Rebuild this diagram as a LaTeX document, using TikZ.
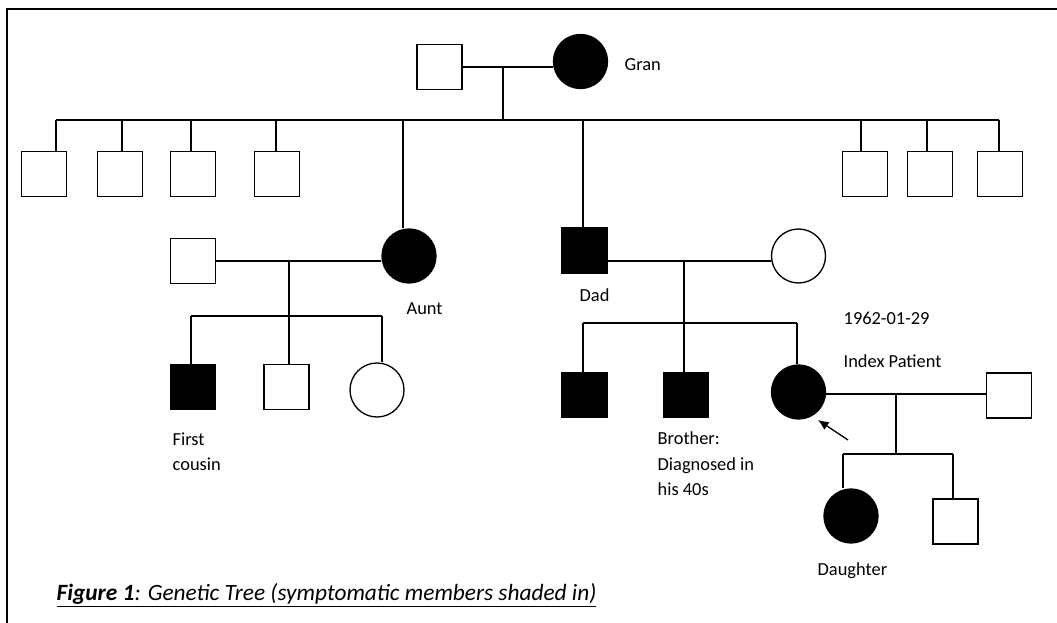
\documentclass[tikz,border=0pt]{standalone}
\usepackage{fontspec}
\setmainfont{Carlito}
\usetikzlibrary{shapes,arrows.meta}
\tikzstyle{ml}=[rectangle,draw=black,line width=1pt,minimum size=33.75pt,inner sep=0pt]
\tikzstyle{fm}=[circle,draw=black,line width=1pt,minimum size=40.5pt,inner sep=0pt]
\tikzstyle{aff}=[fill=black]
\tikzstyle{lbl}=[anchor=base west,inner sep=0pt,align=left,font=\fontsize{13.8}{19.1}\selectfont]

\begin{document}
\begin{tikzpicture}[x=.75pt,y=-.75pt,line width=1pt]
\useasboundingbox (0,0) rectangle (1057,623);
\draw (7,623) -- (7,9) -- (1057,9);
% grandparents
\node[ml] (gpa) at (439.5,67) {};
\node[fm,aff] (gran) at (580.5,61.5) {};
\coordinate (m0) at (503,67);
\coordinate (s0) at (503,120);
\draw (gpa.east) -- (gpa.east -| gran.west);
\draw (m0) -- (s0);
% uncles
\foreach \x/\d [count=\i] in {44/56,120/122,193/191,277/276,865/861,930/927,1000/999} {
\node[ml] (u\i) at (\x,174) {};
\coordinate (d\i) at (\d,120);
\draw (d\i) -- (d\i |- u\i.north);}
\draw (d1) -- (d7);
% aunt and dad
\node[fm,aff] (aunt) at (409,256) {};
\node[ml,aff] (dad) at (584.5,250.5) {};
\coordinate (da) at (403,120);
\coordinate (dd) at (583,120);
\draw (da) -- (da |- aunt.north);
\draw (dd) -- (dd |- dad.north);
% aunt's family
\node[ml] (auntsp) at (193,261) {};
\coordinate (m1) at (289,261);
\coordinate (s1) at (289,316);
\draw (auntsp.east) -- (auntsp.east -| aunt.west);
\draw (m1) -- (s1);
\node[ml,aff] (cous1) at (193,387) {};
\node[ml] (cous2) at (286.5,387) {};
\node[fm] (cous3) at (377,390) {};
\coordinate (c1) at (191,316);
\coordinate (c3) at (382,316);
\draw (c1) -- (c3);
\draw (c1) -- (c1 |- cous1.north);
\draw (s1) -- (s1 |- cous2.north);
\draw (c3) -- (c3 |- cous3.north);
% dad's family
\node[fm] (mum) at (798.5,256) {};
\coordinate (m2) at (684,261);
\coordinate (s2) at (684,323);
\draw (m2 -| dad.east) -- (m2 -| mum.west);
\draw (m2) -- (s2);
\node[ml,aff] (bro1) at (584.5,395) {};
\node[ml,aff] (bro2) at (686,395) {};
\node[fm,aff] (index) at (798.5,392) {};
\coordinate (b1) at (583,323);
\coordinate (b3) at (797,323);
\draw (b1) -- (b3);
\draw (b1) -- (b1 |- bro1.north);
\draw (s2) -- (s2 |- bro2.north);
\draw (b3) -- (b3 |- index.north);
% index patient's family
\node[ml] (idxsp) at (1009,395.5) {};
\coordinate (m3) at (896,394);
\coordinate (s3) at (896,454);
\draw (m3 -| index.east) -- (m3 -| idxsp.west);
\draw (m3) -- (s3);
\node[fm,aff] (dau) at (851,516) {};
\node[ml] (son) at (955.5,521.5) {};
\coordinate (k1) at (843,454);
\coordinate (k2) at (953,454);
\draw (k1) -- (k2);
\draw (k1) -- (k1 |- dau.north);
\draw (k2) -- (k2 |- son.north);
\coordinate (arrt) at (848,440);
\coordinate (arrh) at (818,420);
\draw[-{Latex[length=8pt,width=7pt]}] (arrt) -- (arrh);
% labels (base = last line)
\node[lbl] (lgran) at (624,71) {Gran};
\node[lbl] (launt) at (406,315) {Aunt};
\node[lbl] (ldad) at (579,302) {Dad};
\node[lbl] (ldate) at (843,325) {1962-01-29};
\node[lbl] (lindex) at (843,368) {Index Patient};
\node[lbl] (lcous) at (172,470.7) {First\\cousin};
\node[lbl] (lbro) at (657,495.7) {Brother:\\Diagnosed in\\his 40s};
\node[lbl] (ldau) at (817,575) {Daughter};
\node[anchor=base west,inner sep=0pt,font=\fontsize{17.5}{21}\selectfont\itshape] (cap) at (56,600)
  {\underline{\textbf{Figure 1}: Genetic Tree (symptomatic members shaded in)}};
\end{tikzpicture}
\end{document}
